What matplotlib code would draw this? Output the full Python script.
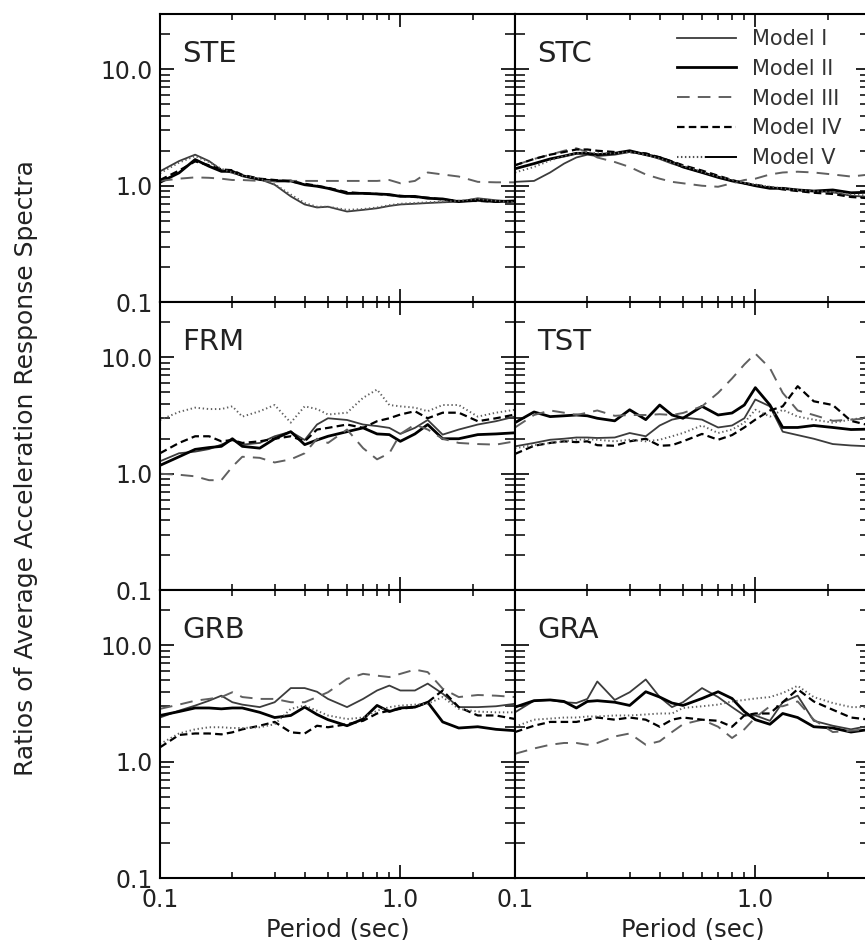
import matplotlib
matplotlib.use("Agg")
import matplotlib.pyplot as plt
from matplotlib.lines import Line2D
from matplotlib.legend_handler import HandlerTuple
from matplotlib.ticker import FixedLocator, FixedFormatter, NullFormatter

plt.rcParams['font.family'] = ['DejaVu Sans']

periods = [0.1, 0.12, 0.14, 0.16, 0.18, 0.2, 0.22, 0.26, 0.3, 0.35, 0.4, 0.45, 0.5,
           0.6, 0.7, 0.8, 0.9, 1.0, 1.15, 1.3, 1.5, 1.75, 2.1, 2.5, 3.0]

models = ["Model I", "Model II", "Model III", "Model IV", "Model V"]
stations = ["STE", "STC", "FRM", "TST", "GRB", "GRA"]

ste_I   = [1.33, 1.63, 1.85, 1.63, 1.37, 1.29, 1.22, 1.14, 1.02, 0.81, 0.69, 0.65, 0.66, 0.60, 0.62, 0.64, 0.67, 0.69, 0.70, 0.71, 0.72, 0.73, 0.78, 0.75, 0.73]
ste_II  = [1.07, 1.29, 1.68, 1.47, 1.33, 1.33, 1.22, 1.13, 1.10, 1.10, 1.02, 0.99, 0.95, 0.86, 0.86, 0.85, 0.84, 0.81, 0.81, 0.78, 0.77, 0.73, 0.75, 0.73, 0.74]
ste_III = [1.10, 1.15, 1.18, 1.17, 1.15, 1.12, 1.12, 1.10, 1.10, 1.10, 1.10, 1.10, 1.10, 1.10, 1.10, 1.10, 1.12, 1.05, 1.10, 1.30, 1.25, 1.20, 1.08, 1.07, 1.07]
ste_IV  = [1.12, 1.35, 1.62, 1.50, 1.38, 1.36, 1.24, 1.15, 1.12, 1.09, 1.04, 1.00, 0.96, 0.88, 0.86, 0.85, 0.83, 0.82, 0.80, 0.79, 0.76, 0.74, 0.74, 0.73, 0.73]
ste_V   = [1.28, 1.58, 1.80, 1.60, 1.40, 1.30, 1.22, 1.15, 1.03, 0.84, 0.71, 0.66, 0.66, 0.62, 0.63, 0.65, 0.68, 0.70, 0.71, 0.72, 0.73, 0.74, 0.77, 0.74, 0.72]

stc_I   = [1.08, 1.10, 1.30, 1.55, 1.75, 1.85, 1.80, 1.85, 1.95, 1.85, 1.70, 1.55, 1.45, 1.30, 1.20, 1.10, 1.05, 1.00, 0.97, 0.95, 0.92, 0.90, 0.88, 0.82, 0.80]
stc_II  = [1.40, 1.55, 1.70, 1.80, 1.90, 1.90, 1.85, 1.90, 2.00, 1.85, 1.75, 1.60, 1.45, 1.30, 1.18, 1.10, 1.05, 1.00, 0.95, 0.95, 0.92, 0.90, 0.92, 0.87, 0.88]
stc_III = [1.50, 1.70, 1.85, 2.00, 2.10, 1.95, 1.75, 1.60, 1.45, 1.25, 1.15, 1.08, 1.05, 1.00, 0.98, 1.05, 1.12, 1.15, 1.25, 1.30, 1.32, 1.30, 1.25, 1.20, 1.25]
stc_IV  = [1.50, 1.70, 1.85, 1.95, 2.05, 2.05, 2.00, 1.95, 1.95, 1.90, 1.75, 1.62, 1.50, 1.35, 1.22, 1.12, 1.05, 1.02, 0.97, 0.93, 0.90, 0.87, 0.85, 0.80, 0.78]
stc_V   = [1.30, 1.45, 1.65, 1.80, 1.90, 1.95, 1.90, 1.90, 1.95, 1.85, 1.72, 1.58, 1.48, 1.32, 1.20, 1.12, 1.06, 1.02, 0.98, 0.95, 0.92, 0.90, 0.88, 0.84, 0.82]

frm_I   = [1.28, 1.50, 1.55, 1.63, 1.78, 1.95, 1.78, 1.84, 2.10, 2.30, 1.95, 2.65, 3.00, 2.90, 2.65, 2.57, 2.48, 2.20, 2.48, 2.90, 2.17, 2.40, 2.65, 2.83, 3.10]
frm_II  = [1.18, 1.40, 1.62, 1.68, 1.72, 2.00, 1.72, 1.66, 2.00, 2.30, 1.78, 1.95, 2.10, 2.30, 2.48, 2.20, 2.17, 1.90, 2.20, 2.65, 2.00, 2.00, 2.17, 2.20, 2.25]
frm_III = [1.00, 0.98, 0.95, 0.88, 0.88, 1.15, 1.40, 1.37, 1.25, 1.33, 1.50, 2.00, 1.84, 2.40, 1.66, 1.33, 1.50, 2.20, 2.65, 2.40, 2.00, 1.84, 1.80, 1.78, 1.90]
frm_IV  = [1.50, 1.84, 2.10, 2.10, 1.90, 1.95, 1.84, 1.90, 2.00, 2.10, 1.90, 2.40, 2.48, 2.65, 2.48, 2.83, 3.00, 3.23, 3.45, 3.00, 3.35, 3.35, 2.83, 3.00, 3.23]
frm_V   = [2.90, 3.40, 3.70, 3.60, 3.60, 3.80, 3.10, 3.45, 3.90, 2.75, 3.80, 3.60, 3.23, 3.35, 4.50, 5.30, 3.90, 3.80, 3.70, 3.45, 3.90, 3.90, 3.10, 3.35, 3.55]

tst_I   = [1.72, 1.84, 1.96, 2.00, 2.05, 2.05, 2.03, 2.05, 2.24, 2.10, 2.60, 2.92, 3.05, 2.92, 2.50, 2.60, 3.00, 4.35, 3.80, 2.30, 2.15, 2.00, 1.80, 1.75, 1.72]
tst_II  = [2.75, 3.40, 3.10, 3.15, 3.20, 3.15, 3.00, 2.85, 3.55, 2.92, 3.90, 3.20, 3.00, 3.80, 3.20, 3.33, 3.90, 5.50, 3.90, 2.50, 2.50, 2.60, 2.50, 2.40, 2.42]
tst_III = [2.50, 3.20, 3.50, 3.35, 3.20, 3.35, 3.50, 3.15, 3.20, 3.20, 3.25, 3.20, 3.33, 3.80, 4.96, 6.60, 8.70, 10.8, 8.10, 4.96, 3.50, 3.20, 2.85, 2.92, 3.00]
tst_IV  = [1.48, 1.74, 1.84, 1.90, 1.87, 1.90, 1.76, 1.74, 1.90, 2.00, 1.74, 1.76, 1.90, 2.20, 1.96, 2.15, 2.50, 2.92, 3.50, 3.80, 5.66, 4.20, 3.90, 2.85, 2.60]
tst_V   = [1.66, 1.76, 1.84, 1.90, 1.96, 1.98, 1.96, 1.90, 1.96, 1.90, 1.96, 2.10, 2.24, 2.60, 2.24, 2.40, 2.75, 3.55, 3.10, 3.55, 3.10, 2.92, 2.75, 2.92, 3.10]

grb_I   = [2.40, 2.75, 3.04, 3.35, 3.70, 3.25, 3.10, 2.95, 3.25, 4.30, 4.30, 4.00, 3.47, 2.95, 3.47, 4.10, 4.52, 4.10, 4.10, 4.70, 3.85, 2.95, 2.95, 3.00, 3.15]
grb_II  = [2.50, 2.70, 2.90, 2.90, 2.85, 2.90, 2.90, 2.66, 2.40, 2.50, 2.95, 2.55, 2.30, 2.04, 2.33, 3.05, 2.70, 2.90, 2.95, 3.25, 2.20, 1.95, 2.00, 1.90, 1.85]
grb_III = [2.85, 3.10, 3.35, 3.47, 3.60, 3.96, 3.60, 3.47, 3.47, 3.25, 3.25, 3.60, 3.96, 5.16, 5.70, 5.50, 5.35, 5.70, 6.20, 5.90, 4.25, 3.60, 3.75, 3.70, 3.60]
grb_IV  = [1.33, 1.70, 1.75, 1.75, 1.72, 1.79, 1.90, 2.04, 2.20, 1.79, 1.75, 2.04, 1.98, 2.10, 2.25, 2.60, 2.75, 2.85, 2.95, 3.25, 4.10, 2.95, 2.50, 2.50, 2.33]
grb_V   = [1.42, 1.75, 1.90, 1.98, 1.98, 1.95, 1.95, 1.98, 2.10, 2.85, 3.04, 2.75, 2.50, 2.33, 2.40, 2.75, 2.95, 3.04, 3.10, 3.15, 3.60, 2.85, 2.70, 2.66, 2.66]

gra_I   = [2.66, 3.35, 3.40, 3.25, 3.20, 3.47, 4.90, 3.40, 3.96, 5.10, 3.60, 2.95, 3.25, 4.30, 3.60, 2.95, 2.50, 2.50, 2.25, 3.25, 3.70, 2.25, 2.04, 1.90, 2.04]
gra_II  = [2.95, 3.35, 3.40, 3.30, 2.90, 3.30, 3.35, 3.25, 3.05, 4.00, 3.60, 3.20, 3.05, 3.50, 4.00, 3.50, 2.70, 2.30, 2.10, 2.60, 2.40, 2.00, 1.95, 1.80, 1.90]
gra_III = [1.17, 1.30, 1.40, 1.45, 1.45, 1.40, 1.45, 1.65, 1.75, 1.40, 1.50, 1.80, 2.10, 2.30, 2.00, 1.60, 1.90, 2.40, 3.00, 3.00, 3.30, 2.30, 1.80, 1.85, 1.90]
gra_IV  = [1.80, 2.04, 2.20, 2.20, 2.20, 2.30, 2.40, 2.30, 2.40, 2.30, 2.00, 2.30, 2.40, 2.30, 2.25, 2.00, 2.50, 2.60, 2.60, 3.25, 4.20, 3.30, 2.80, 2.40, 2.30]
gra_V   = [2.00, 2.30, 2.35, 2.40, 2.40, 2.45, 2.45, 2.50, 2.50, 2.55, 2.60, 2.60, 2.90, 3.00, 3.10, 3.30, 3.40, 3.50, 3.60, 3.90, 4.50, 3.60, 3.20, 2.95, 2.95]

panel_data = {
    "STE": [ste_I, ste_II, ste_III, ste_IV, ste_V],
    "STC": [stc_I, stc_II, stc_III, stc_IV, stc_V],
    "FRM": [frm_I, frm_II, frm_III, frm_IV, frm_V],
    "TST": [tst_I, tst_II, tst_III, tst_IV, tst_V],
    "GRB": [grb_I, grb_II, grb_III, grb_IV, grb_V],
    "GRA": [gra_I, gra_II, gra_III, gra_IV, gra_V],
}

styles = [
    dict(color="#3c3c3c", lw=1.3, linestyle="-"),
    dict(color="black", lw=2.0, linestyle="-"),
    dict(color="#606060", lw=1.4, linestyle=(0, (6.5, 4.2))),
    dict(color="black", lw=1.6, linestyle=(0, (3.4, 1.9))),
    dict(color="#606060", lw=1.4, linestyle=(0, (0.7, 1.4))),
]

W, H = 865, 940
fig = plt.figure(figsize=(W / 100, H / 100), dpi=100)

col_x = [160, 515]
col_w = 355
row_top = [14, 302, 590]
row_h = 288

axes = []
for i, st in enumerate(stations):
    r, c = divmod(i, 2)
    x0 = col_x[c] / W
    y0 = 1 - (row_top[r] + row_h) / H
    ax = fig.add_axes([x0, y0, col_w / W, row_h / H])
    axes.append(ax)
    ax.set_xscale("log")
    ax.set_yscale("log")
    ax.set_xlim(0.1, 3.0)
    ax.set_ylim(0.1, 30)
    for vals, sty in zip(panel_data[st], styles):
        ax.plot(periods, vals, **sty)
    ax.text(0.062, 0.862, st, transform=ax.transAxes, fontsize=21,
            ha="left", va="center", color="#222222")
    for s in ax.spines.values():
        s.set_linewidth(1.5)
    ax.xaxis.set_major_locator(FixedLocator([0.1, 1.0]))
    ax.xaxis.set_minor_locator(FixedLocator([0.2, 0.3, 0.4, 0.5, 0.6, 0.7, 0.8, 0.9, 2.0, 3.0]))
    ax.yaxis.set_major_locator(FixedLocator([0.1, 1.0, 10.0]))
    ax.yaxis.set_minor_locator(FixedLocator([0.2, 0.3, 0.4, 0.5, 0.6, 0.7, 0.8, 0.9,
                                             2, 3, 4, 5, 6, 7, 8, 9, 20]))
    ax.xaxis.set_minor_formatter(NullFormatter())
    ax.yaxis.set_minor_formatter(NullFormatter())
    ax.tick_params(axis="both", which="both", direction="in", top=True, right=True,
                   colors="black", labelcolor="#222222")
    ax.tick_params(axis="x", which="major", length=9.5, width=1.2, labelsize=17, pad=7)
    ax.tick_params(axis="x", which="minor", length=4.5, width=1.1)
    ax.tick_params(axis="y", which="major", length=10, width=1.2, labelsize=17, pad=5)
    ax.tick_params(axis="y", which="minor", length=7, width=1.1)
    if c == 0:
        ax.yaxis.set_major_formatter(FixedFormatter(["0.1", "1.0", "10.0"]))
    else:
        ax.yaxis.set_major_formatter(NullFormatter())
    if r == 2:
        ax.xaxis.set_major_formatter(FixedFormatter(["0.1", "1.0"]))
        ax.set_xlabel("Period (sec)", fontsize=17.5, color="#222222", labelpad=4)
    else:
        ax.xaxis.set_major_formatter(NullFormatter())

# legend in STC panel
h = [Line2D([], [], **styles[k]) for k in range(4)]
h5 = (Line2D([], [], color="#505050", lw=1.5, linestyle=(0, (0.7, 1.2))),
      Line2D([], [], color="black", lw=1.4, linestyle="-"))
handles = h + [h5]
axes[1].legend(handles, models, loc="upper left", bbox_to_anchor=(0.455, 0.948),
               frameon=False, fontsize=15, handlelength=2.85, handletextpad=0.75,
               labelspacing=0.47, borderpad=0, borderaxespad=0,
               labelcolor="#333333",
               handler_map={tuple: HandlerTuple(ndivide=None, pad=0)})

fig.text(26 / W, 1 - 468 / H, "Ratios of Average Acceleration Response Spectra",
         rotation=90, ha="center", va="center", fontsize=18, color="#222222")

fig.savefig("out.png", dpi=100)
